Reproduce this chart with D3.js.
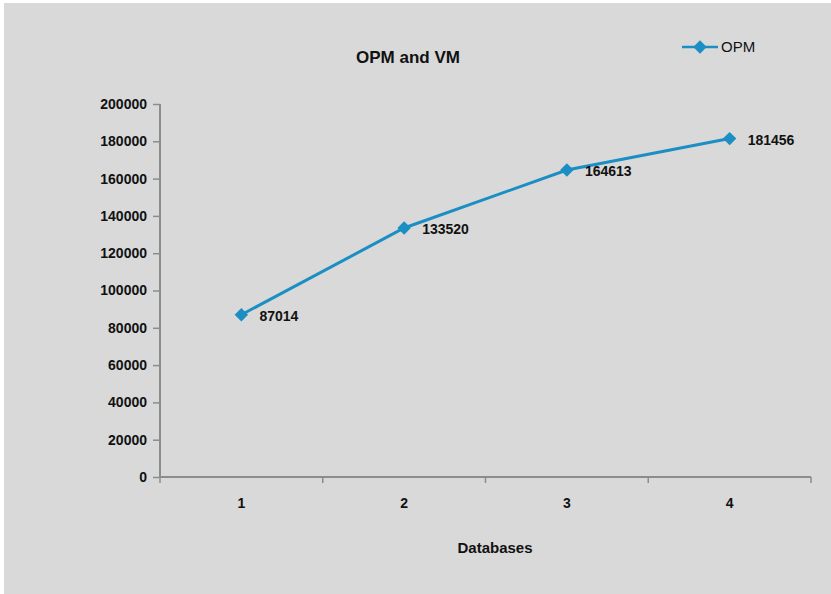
<!DOCTYPE html>
<html>
<head>
<meta charset="utf-8">
<script src="https://cdn.jsdelivr.net/npm/d3@7"></script>
<style>
  body { margin: 0; background: #fff; }
  text { font-family: Arial, "Liberation Sans", sans-serif; fill: #111; }
</style>
</head>
<body>
<div id="chart"></div>
<script>
var categories = ["1", "2", "3", "4"];
var opmValues = [87014, 133520, 164613, 181456];
var yTicks = [0, 20000, 40000, 60000, 80000, 100000, 120000, 140000, 160000, 180000, 200000];

var svgWidth = 831;
var svgHeight = 594;
var margin = { top: 104, right: 20, bottom: 117, left: 160 };
var width = 811 - margin.left;
var height = 477 - margin.top;
var lineColor = "#1b8ec4";
var axisColor = "#8c8c8c";

var svg = d3.select("#chart")
  .append("svg")
  .attr("width", svgWidth)
  .attr("height", svgHeight);

// chart background
svg.append("rect")
  .attr("x", 4)
  .attr("y", 3)
  .attr("width", svgWidth - 4)
  .attr("height", svgHeight - 3)
  .attr("fill", "#d9d9d9");

var chartGroup = svg.append("g")
  .attr("transform", `translate(${margin.left}, ${margin.top})`);

var xScale = d3.scaleBand()
  .domain(categories)
  .range([0, width]);

var yScale = d3.scaleLinear()
  .domain([0, 200000])
  .range([height, 0]);

// axes
var bottomAxis = d3.axisBottom(xScale).tickSize(0).tickPadding(21);
var leftAxis = d3.axisLeft(yScale).tickValues(yTicks).tickSize(7).tickPadding(6).tickFormat(d3.format("d"));

var xAxisG = chartGroup.append("g")
  .attr("transform", `translate(0, ${height})`)
  .call(bottomAxis);
xAxisG.select(".domain").attr("stroke", axisColor).attr("stroke-width", 2).attr("d", `M0,0H${width}`);
xAxisG.selectAll("text").attr("font-size", 14).attr("font-weight", "bold").attr("fill", "#111");

// x tick marks between categories
var boundaries = categories.map(function(c) { return xScale(c); }).concat([width]);
xAxisG.selectAll(".bound")
  .data(boundaries)
  .enter()
  .append("line")
  .attr("class", "bound")
  .attr("x1", d => d)
  .attr("x2", d => d)
  .attr("y1", 0)
  .attr("y2", 6)
  .attr("stroke", axisColor)
  .attr("stroke-width", 1.5);

var yAxisG = chartGroup.append("g").call(leftAxis);
yAxisG.select(".domain").attr("stroke", axisColor).attr("stroke-width", 2).attr("d", `M0,0V${height}`);
yAxisG.selectAll(".tick line").attr("stroke", axisColor).attr("stroke-width", 1.5);
yAxisG.selectAll("text").attr("font-size", 14).attr("font-weight", "bold").attr("fill", "#111");

// line
var line = d3.line()
  .x((d, i) => xScale(categories[i]) + xScale.bandwidth() / 2)
  .y(d => yScale(d));

chartGroup.append("path")
  .datum(opmValues)
  .attr("fill", "none")
  .attr("stroke", lineColor)
  .attr("stroke-width", 3)
  .attr("d", line);

// square diamond marker
var diamond = d3.symbol().type(d3.symbolSquare).size(90);

chartGroup.selectAll(".marker")
  .data(opmValues)
  .enter()
  .append("path")
  .attr("class", "marker")
  .attr("transform", (d, i) => `translate(${xScale(categories[i]) + xScale.bandwidth() / 2}, ${yScale(d)}) rotate(45)`)
  .attr("d", diamond)
  .attr("fill", lineColor);

// data labels
chartGroup.selectAll(".dlabel")
  .data(opmValues)
  .enter()
  .append("text")
  .attr("class", "dlabel")
  .attr("x", (d, i) => xScale(categories[i]) + xScale.bandwidth() / 2 + 18)
  .attr("y", d => yScale(d) + 6)
  .attr("font-size", 14)
  .attr("font-weight", "bold")
  .text(d => d);

// title
svg.append("text")
  .attr("x", 408)
  .attr("y", 63)
  .attr("text-anchor", "middle")
  .attr("font-size", 17)
  .attr("font-weight", "bold")
  .text("OPM and VM");

// x axis title
svg.append("text")
  .attr("x", 495)
  .attr("y", 553)
  .attr("text-anchor", "middle")
  .attr("font-size", 15)
  .attr("font-weight", "bold")
  .text("Databases");

// legend
var legend = svg.append("g").attr("transform", "translate(682, 47)");
legend.append("line")
  .attr("x1", 0).attr("x2", 36)
  .attr("y1", 0).attr("y2", 0)
  .attr("stroke", lineColor)
  .attr("stroke-width", 2.5);
legend.append("path")
  .attr("transform", "translate(18, 0) rotate(45)")
  .attr("d", diamond)
  .attr("fill", lineColor);
legend.append("text")
  .attr("x", 39)
  .attr("y", 5)
  .attr("font-size", 15)
  .text("OPM");
</script>
</body>
</html>
